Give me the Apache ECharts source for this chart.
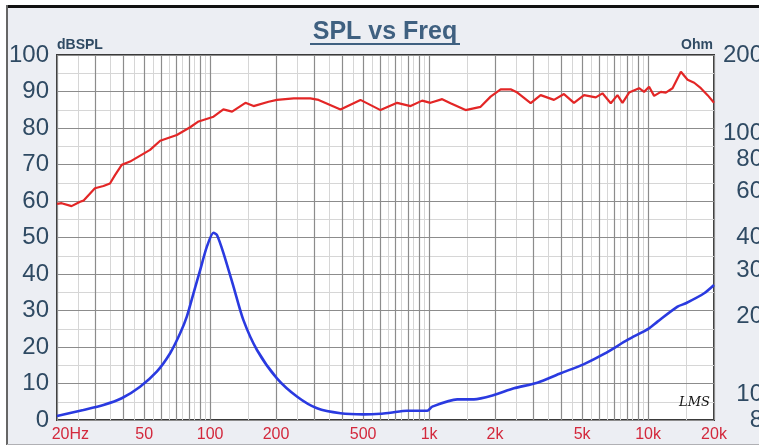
<!DOCTYPE html>
<html>
<head>
<meta charset="utf-8">
<script src="https://cdn.jsdelivr.net/npm/echarts@6/dist/echarts.min.js"></script>
<style>html,body{margin:0;padding:0;background:#fff;}#c{width:759px;height:448px;}</style>
</head>
<body>
<div id="c"></div>
<script>
// ---- data ----
const splFreq = [20,21,23.3,25.5,26.4,29.8,32.6,34.9,36.8,39.5,43.1,53.2,59.2,70.5,81.1,88.6,103.7,115,126,145,158,185,202,241,287,313,394,486,600,715,823,930,1015,1148,1253,1468,1719,1910,2122,2357,2530,2910,3232,3718,4130,4590,5100,5768,6190,6756,7248,7642,8192,9100,9590,10108,10656,11436,12052,12934,14120,15150,16240,17420,18696,20000];
const splDb   = [59.2,59.4,58.6,59.8,60.1,63.5,64.1,64.8,67.1,69.9,70.8,74.0,76.5,78.1,80.2,81.8,83.1,85.1,84.5,86.9,86.0,87.2,87.7,88.1,88.1,87.7,85.1,87.7,84.9,86.9,86.0,87.5,86.9,87.9,86.8,84.9,85.8,88.6,90.6,90.6,89.7,86.8,89.0,87.7,89.3,86.9,89.0,88.4,89.5,86.8,89.0,86.9,89.7,90.9,89.9,91.3,88.8,89.9,89.7,90.9,95.4,93.2,92.4,90.9,89.0,86.9];

const impFreq = [20,26.4,32.6,39.5,47.9,57.1,65.7,73.0,78.3,84.0,90.1,96.7,103.7,107.5,115.2,128,142,164,202,250,308,394,503,600,666,794,981,1034,1345,1602,1977,2440,3122,3990,5100,6296,8054,10108,11041,13634,14880,18040,20000];
const impOhm  = [8.29,8.74,9.13,9.69,10.73,12.25,14.41,17.18,19.9,24.46,30.0,36.9,41.7,40.9,34.8,25.9,19.3,14.8,11.55,9.82,8.87,8.49,8.41,8.45,8.53,8.68,8.68,9.0,9.6,9.6,9.97,10.58,11.12,12.08,13.1,14.32,16.2,17.96,19.05,21.74,22.4,24.46,26.3];

const xMajorTicks = [20,30,40,50,60,70,80,90,100,200,300,400,500,600,700,800,900,1000,2000,3000,4000,5000,6000,7000,8000,9000,10000,20000];
const xMinorTicks = [25,35,45,55,65,75,85,95,150,250,350,450,550,650,750,850,950,1500,2500,3500,4500,5500,6500,7500,8500,9500,15000];
const xLabelValues = [20,50,100,200,500,1000,2000,5000,10000,20000];
const xLabelTexts  = ['20Hz','50','100','200','500','1k','2k','5k','10k','20k'];
const ohmTicks = [8,10,20,30,40,60,80,100,200];

// ---- chart ----
const chart = echarts.init(document.getElementById('c'), null, {renderer:'canvas'});
const labelColor = '#2f4a63';
const fontFam = '"Liberation Sans", Arial, sans-serif';

const zip = (a, b) => a.map((v, i) => [v, b[i]]);

chart.setOption({
  backgroundColor: '#ffffff',
  animation: false,
  graphic: [
    {type:'rect', z:-100, shape:{x:7, y:7, width:760, height:438}, style:{fill:'#eceef3'}},
    {type:'rect', z:-99, shape:{x:7, y:5, width:760, height:3}, style:{fill:'#111'}},
    {type:'rect', z:-99, shape:{x:6, y:5, width:2, height:440}, style:{fill:'#666'}},
    {type:'rect', z:-99, shape:{x:7, y:444, width:760, height:1}, style:{fill:'#b0b0b4'}},
    {type:'rect', z:10, shape:{x:310, y:43, width:150, height:2}, style:{fill:'#3f6080'}},
    {type:'text', z:10, x:679, y:396, style:{text:'LMS', font:'italic 13px "DejaVu Serif", serif', fill:'#111'}}
  ],
  title: [
    {text:'SPL vs Freq', left:385, top:20, textAlign:'center', padding:0,
     textStyle:{fontFamily:fontFam, fontSize:25, fontWeight:'bold', color:'#3f6080'}},
    {text:'dBSPL', left:57, top:38, padding:0,
     textStyle:{fontFamily:fontFam, fontSize:14, fontWeight:'bold', color:labelColor}},
    {text:'Ohm', left:713, top:38, textAlign:'right', padding:0,
     textStyle:{fontFamily:fontFam, fontSize:14, fontWeight:'bold', color:labelColor}}
  ],
  grid: {left:57, right:45, top:55, bottom:28, containLabel:false, outerBoundsMode:'none',
         show:true, backgroundColor:'#ffffff', borderColor:'#3a3a3a', borderWidth:2, z:0},
  xAxis: [
    {type:'log', logBase:10, min:20, max:20000, z:2,
     axisLine:{show:false},
     axisTick:{show:false, customValues:xMajorTicks},
     splitLine:{show:true, lineStyle:{color:'#8c8c8c', width:1.2}},
     axisLabel:{show:true, customValues:xLabelValues, margin:7, hideOverlap:false,
       fontFamily:fontFam, fontSize:16, color:'#d3283c',
       formatter: v => { const i = xLabelValues.findIndex(x => Math.abs(x - v) / x < 1e-6); return i === 0 ? '      ' + xLabelTexts[0] : (i >= 0 ? xLabelTexts[i] : ''); }}
    },
    {type:'log', logBase:10, min:20, max:20000, z:1, position:'bottom',
     axisLine:{show:false},
     axisTick:{show:false, customValues:xMinorTicks},
     axisLabel:{show:false},
     splitLine:{show:true, lineStyle:{color:'#d6d6d6', width:1}}
    }
  ],
  yAxis: [
    {type:'value', min:0, max:100, interval:10, z:2,
     axisLine:{show:false}, axisTick:{show:false},
     splitLine:{show:true, lineStyle:{color:'#8c8c8c', width:1.2}},
     minorTick:{show:false, splitNumber:2},
     minorSplitLine:{show:true, lineStyle:{color:'#d6d6d6', width:1}},
     axisLabel:{margin:8, fontFamily:fontFam, fontSize:24, color:labelColor}
    },
    {type:'log', logBase:10, min:8, max:200, position:'right', z:2,
     axisLine:{show:false},
     axisTick:{show:false, customValues:ohmTicks},
     splitLine:{show:false},
     axisLabel:{customValues:ohmTicks, margin:49, align:'right', fontFamily:fontFam, fontSize:24, color:labelColor,
       formatter: v => String(Math.round(v))}
    }
  ],
  series: [
    {type:'line', name:'SPL', xAxisIndex:0, yAxisIndex:0, data:zip(splFreq, splDb), symbol:'none', z:5,
     lineStyle:{color:'#e32626', width:2.2}},
    {type:'line', name:'Impedance', xAxisIndex:0, yAxisIndex:1, data:zip(impFreq, impOhm), symbol:'none', smooth:0.25, z:5,
     lineStyle:{color:'#2a3ae0', width:2.6}}
  ]
});
</script>
</body>
</html>
